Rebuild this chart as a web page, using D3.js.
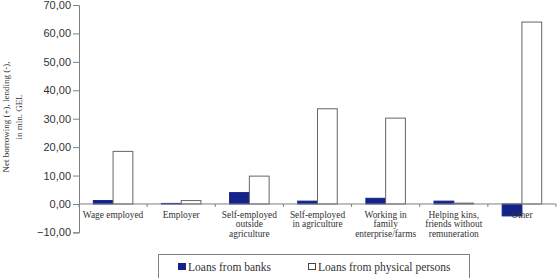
<!DOCTYPE html>
<html>
<head>
<meta charset="utf-8">
<script src="https://cdn.jsdelivr.net/npm/d3@7"></script>
<style>
    body { margin: 0; background: #fff; }
    svg { font-family: "Liberation Serif", "Times New Roman", serif; }
    .axis path, .axis line { stroke: #808080; }
    .axis text { fill: #333; }
</style>
</head>
<body>
<svg id="chart" width="560" height="278"></svg>
<script>
// categories (multi-line labels)
const categories = [
    ["Wage employed"],
    ["Employer"],
    ["Self-employed", "outside", "agriculture"],
    ["Self-employed", "in agriculture"],
    ["Working in", "family", "enterprise/farms"],
    ["Helping kins,", "friends without", "remuneration"],
    ["Other"]
];
const banks = [1.2, 0.2, 4.0, 1.0, 2.0, 1.0, -4.2];
const persons = [18.5, 1.2, 9.8, 33.5, 30.2, 0.3, 64.0];
const yTicks = [-10, 0, 10, 20, 30, 40, 50, 60, 70];
const seriesNames = ["Loans from banks", "Loans from physical persons"];

const svg = d3.select("#chart");
const plotLeft = 79, plotRight = 556, plotTop = 5, plotBottom = 232.4;

const x = d3.scaleBand()
    .domain(d3.range(categories.length))
    .range([plotLeft, plotRight])
    .paddingInner(0.42)
    .paddingOuter(0.21);
const xs = d3.scaleBand().domain([0, 1]).range([0, x.bandwidth()]);

const y = d3.scaleLinear().domain([-10, 70]).range([plotBottom, plotTop]);

// y axis
const yAxis = svg.append("g")
    .attr("class", "axis")
    .attr("transform", "translate(" + plotLeft + ",0)")
    .call(d3.axisLeft(y).tickValues(yTicks).tickSize(6).tickPadding(2)
        .tickFormat(d => d3.format(".2f")(d).replace(".", ",")));
yAxis.selectAll("text").style("font-size", "11px");

// bars
const fmt = [banks, persons];
fmt.forEach((vals, s) => {
    svg.append("g")
        .selectAll("rect")
        .data(vals)
        .enter()
        .append("rect")
        .attr("x", (d, i) => x(i) + xs(s))
        .attr("width", xs.bandwidth())
        .attr("y", d => y(Math.max(0, d)))
        .attr("height", d => Math.abs(y(d) - y(0)))
        .attr("fill", s === 0 ? "#13238a" : "#fff")
        .attr("stroke", s === 0 ? "#13238a" : "#666")
        .attr("stroke-width", 1);
});

// x axis at zero
const step = x.step();
svg.append("line")
    .attr("x1", plotLeft).attr("x2", plotRight)
    .attr("y1", y(0)).attr("y2", y(0))
    .attr("stroke", "#808080");
svg.append("g")
    .selectAll("line")
    .data(d3.range(categories.length + 1))
    .enter()
    .append("line")
    .attr("x1", i => plotLeft + i * step).attr("x2", i => plotLeft + i * step)
    .attr("y1", y(0)).attr("y2", y(0) + 3)
    .attr("stroke", "#808080");

// category labels
svg.append("g")
    .selectAll("text")
    .data(categories)
    .enter()
    .append("text")
    .attr("x", (d, i) => x(i) + x.bandwidth() / 2)
    .attr("y", y(0) + 14)
    .attr("text-anchor", "middle")
    .style("font-size", "9.4px")
    .attr("fill", "#333")
    .each(function (d) {
        d3.select(this).selectAll("tspan")
            .data(d)
            .enter()
            .append("tspan")
            .attr("x", d3.select(this).attr("x"))
            .attr("dy", (t, j) => j === 0 ? 0 : 9.4)
            .text(t => t);
    });

// y axis title
const title = svg.append("text")
    .attr("transform", "translate(9,117) rotate(-90)")
    .attr("text-anchor", "middle")
    .style("font-size", "9px")
    .attr("fill", "#333");
title.append("tspan").attr("x", 0).attr("dy", 0).text("Net borrowing (+), lending (-),");
title.append("tspan").attr("x", 0).attr("dy", 13).text("in mln. GEL");

// legend
svg.append("rect")
    .attr("x", 158.5).attr("y", 254.5)
    .attr("width", 311).attr("height", 30)
    .attr("fill", "none").attr("stroke", "#808080");
const legendX = [178, 308];
seriesNames.forEach((name, s) => {
    svg.append("rect")
        .attr("x", legendX[s] + 0.5).attr("y", 263.5)
        .attr("width", 7).attr("height", 6)
        .attr("fill", s === 0 ? "#13238a" : "#fff")
        .attr("stroke", s === 0 ? "#13238a" : "#444");
    svg.append("text")
        .attr("x", legendX[s] + 10).attr("y", 271)
        .style("font-size", "11.5px")
        .attr("fill", "#333")
        .text(name);
});
</script>
</body>
</html>
